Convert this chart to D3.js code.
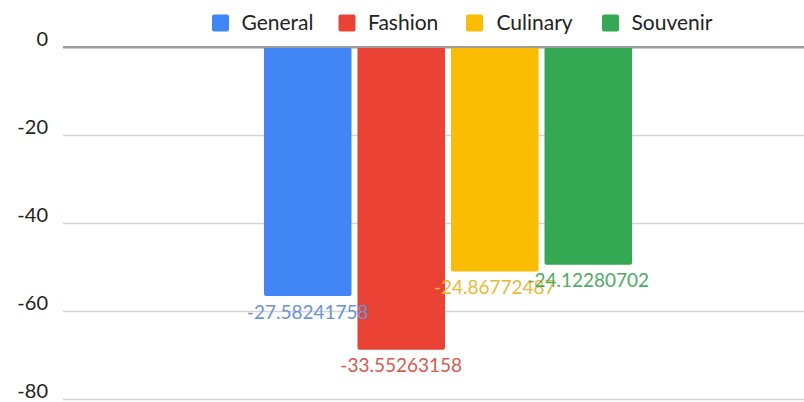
<!DOCTYPE html>
<html>
<head>
<meta charset="utf-8">
<script src="https://cdn.jsdelivr.net/npm/d3@7/dist/d3.min.js"></script>
<style>
  html, body { margin: 0; padding: 0; background: #fff; }
  svg { display: block; font-family: Lato, "Open Sans", sans-serif; }
</style>
</head>
<body>
<svg id="chart" width="804" height="402"></svg>
<script>
// Series shown as grouped bars in a single category
const series = ["General", "Fashion", "Culinary", "Souvenir"];
const values = [-27.58241758, -33.55263158, -24.86772487, -24.12280702];
const valueLabels = ["-27.58241758", "-33.55263158", "-24.86772487", "-24.12280702"];
const barColors = ["#4285F4", "#EA4335", "#FBBC04", "#34A853"];
const labelColors = ["#6b92d6", "#d65a4e", "#eab83a", "#4dab66"];
const categories = [""];
const leftTicks = [0, -20, -40, -60, -80];
const leftTickLabels = ["0", "-20", "-40", "-60", "-80"];

const svg = d3.select("#chart");
const W = 804, H = 402;
const plot = { left: 63, right: 833, top: 47, bottom: 399 };

// Visible left axis
const yLeft = d3.scaleLinear().domain([0, -80]).range([plot.top, plot.bottom]);
// Bars are plotted against a secondary (hidden) axis
const yRight = d3.scaleLinear().domain([0, -39]).range([plot.top, plot.bottom]);

const x0 = d3.scaleBand().domain(categories).range([plot.left, plot.right]).paddingOuter(0.513);
const x1 = d3.scaleBand().domain(series).range([0, x0.bandwidth()]).padding(0.064);

// Gridlines and tick labels
const yAxis = d3.axisLeft(yLeft)
  .tickValues(leftTicks)
  .tickSize(-(plot.right - plot.left))
  .tickFormat((d, i) => leftTickLabels[i]);

const gAxis = svg.append("g")
  .attr("transform", `translate(${plot.left},0)`)
  .call(yAxis);
gAxis.select(".domain").remove();
gAxis.selectAll(".tick line")
  .attr("stroke", d => d === 0 ? "#9e9e9e" : "#d4d4d4")
  .attr("stroke-width", d => d === 0 ? 2 : 1.3);
gAxis.selectAll(".tick text")
  .attr("x", -15)
  .attr("dy", "-0.06em")
  .attr("fill", "#222")
  .style("font-size", "20px")
  .style("font-family", "Lato, sans-serif");

// Bars
const group = svg.append("g").attr("transform", `translate(${x0(categories[0])},0)`);
group.selectAll("rect.bar")
  .data(series)
  .join("rect")
  .attr("class", "bar")
  .attr("x", d => x1(d))
  .attr("width", x1.bandwidth())
  .attr("y", (d, i) => yRight(Math.max(0, values[i])))
  .attr("height", (d, i) => Math.abs(yRight(values[i]) - yRight(0)))
  .attr("rx", 2)
  .attr("fill", (d, i) => barColors[i]);

// Zero line drawn over the bar tops
svg.append("line")
  .attr("x1", plot.left).attr("x2", W)
  .attr("y1", yLeft(0)).attr("y2", yLeft(0))
  .attr("stroke", "#9e9e9e").attr("stroke-width", 2);

// Value labels below each bar
group.selectAll("text.val")
  .data(series)
  .join("text")
  .attr("class", "val")
  .attr("x", d => x1(d) + x1.bandwidth() / 2)
  .attr("y", (d, i) => yRight(values[i]) + 16)
  .attr("dy", "0.35em")
  .attr("text-anchor", "middle")
  .attr("fill", (d, i) => labelColors[i])
  .style("font-size", "19px")
  .text((d, i) => valueLabels[i]);

// Legend
const legendItems = [
  { x: 212, tx: 241.5 },
  { x: 338.5, tx: 368 },
  { x: 466, tx: 496.5 },
  { x: 602, tx: 631.5 }
];
const legend = svg.append("g");
series.forEach((s, i) => {
  legend.append("rect")
    .attr("x", legendItems[i].x).attr("y", 14.5)
    .attr("width", 17).attr("height", 17)
    .attr("rx", 2)
    .attr("fill", barColors[i]);
  legend.append("text")
    .attr("x", legendItems[i].tx).attr("y", 23)
    .attr("dy", "0.35em")
    .attr("fill", "#222")
    .style("font-size", "21px")
    .text(s);
});
</script>
</body>
</html>
